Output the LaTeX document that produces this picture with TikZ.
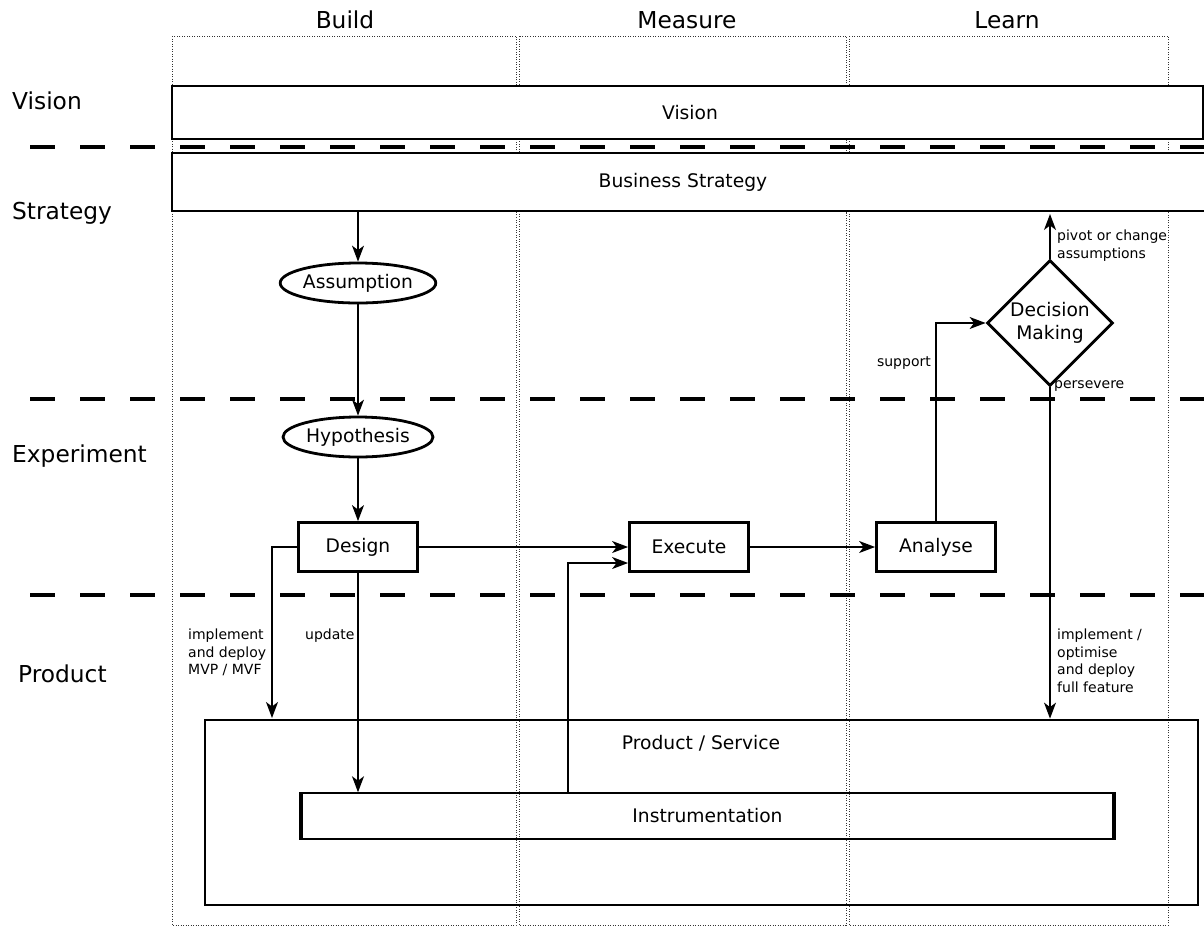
\documentclass[tikz,border=0pt]{standalone}
\usepackage{fontspec}
\setmainfont{DejaVu Sans}
\usetikzlibrary{arrows.meta,shapes.geometric,calc}
\begin{document}
\begin{tikzpicture}[x=1pt,y=-1pt,
  col/.style={draw=black!80, line width=1pt, dash pattern=on 1pt off 1.5pt},
  lane/.style={draw, line width=4pt, dash pattern=on 25pt off 25pt},
  bigbox/.style={draw, line width=2.8pt, rectangle, inner sep=0pt, font=\fontsize{18.7}{23}\selectfont},
  proc/.style={draw, line width=2.8pt, rectangle, minimum width=119pt, minimum height=49pt, inner sep=0pt, font=\fontsize{18.7}{23}\selectfont},
  oval/.style={ellipse, draw, line width=2.8pt, minimum width=150pt, minimum height=40pt, inner sep=0pt, font=\fontsize{18.7}{23}\selectfont},
  decision/.style={diamond, aspect=1, draw, line width=2.8pt, minimum size=126pt, inner sep=0pt, align=center, font=\fontsize{18.7}{23}\selectfont},
  conn/.style={-{Stealth[length=16pt,width=12pt,inset=4.5pt]}, line width=1.4pt},
  elabel/.style={font=\fontsize{14}{17.5}\selectfont, align=left, inner sep=0pt},
  hdr/.style={font=\fontsize{23.3}{28}\selectfont, inner sep=0pt},
  ntext/.style={font=\fontsize{18.7}{23}\selectfont, inner sep=0pt},
]
\useasboundingbox (0,0) rectangle (1204,927);
\clip (0,0) rectangle (1204,927);
\fill[white] (0,0) rectangle (1204,927);

% column frames
\draw[col] (172,36) rectangle (516,925);
\draw[col] (519,36) rectangle (846,925);
\draw[col] (849,36) rectangle (1168,925);

% headers
\node[hdr] (hbuild) at (345,20) {Build};
\node[hdr] (hmeasure) at (687,20) {Measure};
\node[hdr] (hlearn) at (1007,20) {Learn};

% row labels
\node[hdr, anchor=west] (rvision) at (12,101) {Vision};
\node[hdr, anchor=west] (rstrategy) at (12,213) {Strategy};
\node[hdr, anchor=west] (rexperiment) at (12,456) {Experiment};
\node[hdr, anchor=west] (rproduct) at (18,674) {Product};

% lane separators
\draw[lane] (30,147) -- (1204,147);
\draw[lane] (30,399) -- (1204,399);
\draw[lane] (30,595) -- (1204,595);

% top boxes
\node[bigbox, fill=white, minimum width=1031pt, minimum height=53pt] (vision) at (687.5,112.5) {};
\node[ntext] (visiontxt) at (690,113) {Vision};
\node[bigbox, fill=white, minimum width=1050pt, minimum height=58pt] (strategy) at (697,182) {};
\node[ntext] (strategytxt) at (683,182) {Business Strategy};

% flow nodes
\node[oval] (assumption) at (358,283) {Assumption};
\node[oval] (hypothesis) at (358,437) {Hypothesis};
\node[proc] (design) at (358,547) {Design};
\node[proc] (execute) at (689,547) {Execute};
\node[proc] (analyse) at (936,547) {Analyse};
\node[decision] (dm) at (1050,323) {Decision\\Making};

% product
\node[bigbox, minimum width=993pt, minimum height=185pt] (product) at (701.5,812.5) {};
\node[ntext] (producttxt) at (701,743) {Product / Service};
\node[draw, line width=1.5pt, rectangle, minimum width=813pt, minimum height=46pt, inner sep=0pt, font=\fontsize{18.7}{23}\selectfont] (instr) at (707.5,816) {Instrumentation};
\draw[line width=4pt] ([xshift=1pt]instr.north west) -- ([xshift=1pt]instr.south west);
\draw[line width=4pt] ([xshift=-1pt]instr.north east) -- ([xshift=-1pt]instr.south east);

% coordinates
\coordinate (pivotend) at (1050,214);
\coordinate (mvpend) at (272,718);
\coordinate (ibranch) at (568,793);

% connectors
\draw[conn] (strategy.south -| assumption.north) -- (assumption.north);
\draw[conn] (assumption.south) -- (hypothesis.north);
\draw[conn] (hypothesis.south) -- (design.north);
\draw[conn] (design.east) -- (execute.west);
\draw[conn] (execute.east) -- (analyse.west);
\draw[conn] (analyse.north) |- (dm.west);
\draw[conn] (dm.north) -- (pivotend);
\draw[conn] (dm.south) -- (dm.south |- product.north);
\draw[conn] (design.west) -| (mvpend);
\draw[conn] (design.south) -- (design.south |- instr.north);
\draw[conn] (ibranch) |- ($(execute.west)+(0,16)$);

% edge labels
\node[elabel, anchor=north west] (lpivot) at (1057,230) {pivot or change\\assumptions};
\node[elabel, anchor=west] (lpersevere) at (1054,386) {persevere};
\node[elabel, anchor=east] (lsupport) at (931,363) {support};
\node[elabel, anchor=north west] (lfull) at (1057,629) {implement /\\optimise\\and deploy\\full feature};
\node[elabel, anchor=north west] (lmvp) at (188,629) {implement\\and deploy\\MVP / MVF};
\node[elabel, anchor=north west] (lupdate) at (305,629) {update};
\end{tikzpicture}
\end{document}
